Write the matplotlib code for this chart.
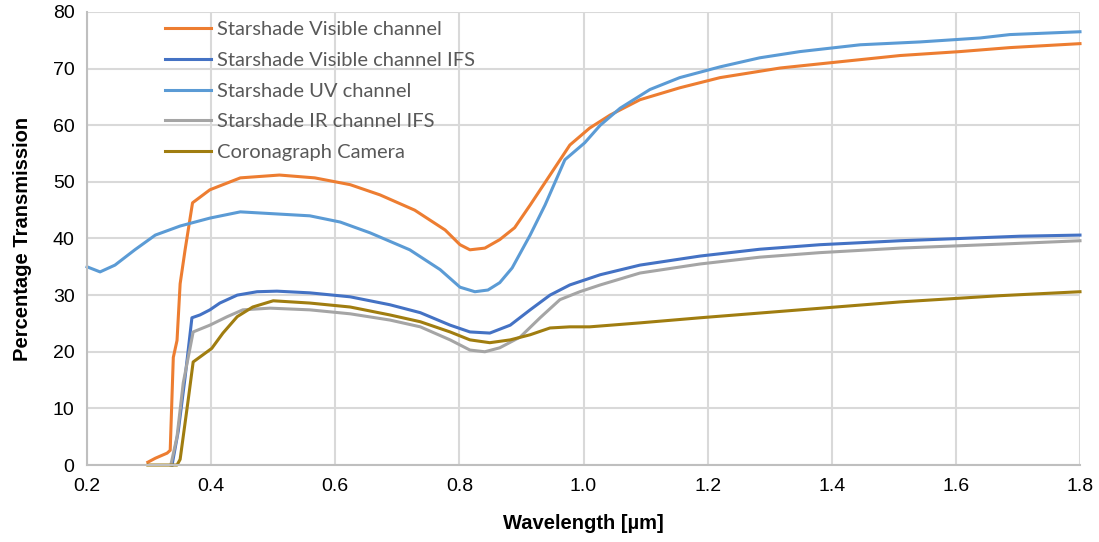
import matplotlib
matplotlib.use('Agg')
import matplotlib.pyplot as plt
import numpy as np

# Starshade Visible channel
vis_x = [0.298, 0.31, 0.329, 0.334, 0.339, 0.345, 0.35, 0.358, 0.37, 0.398, 0.447, 0.51, 0.567,
         0.624, 0.672, 0.728, 0.777, 0.801, 0.817, 0.841, 0.865, 0.889, 0.914, 0.946, 0.978,
         1.01, 1.043, 1.091, 1.155, 1.22, 1.317, 1.413, 1.51, 1.607, 1.687, 1.8]
vis_y = [0.5, 1.2, 2.1, 2.6, 19, 22, 32, 38, 46.3, 48.6, 50.7, 51.2, 50.7,
         49.5, 47.7, 45, 41.5, 38.9, 38, 38.3, 39.8, 41.9, 45.9, 51.2, 56.5,
         59.5, 61.8, 64.5, 66.6, 68.4, 70.1, 71.2, 72.3, 73, 73.7, 74.4]

# Starshade Visible channel IFS
ifs_x = [0.337, 0.347, 0.358, 0.369, 0.382, 0.398, 0.414, 0.442, 0.474, 0.506, 0.559,
         0.624, 0.688, 0.737, 0.785, 0.817, 0.849, 0.882, 0.914, 0.946, 0.978, 1.027,
         1.091, 1.188, 1.284, 1.381, 1.51, 1.607, 1.703, 1.8]
ifs_y = [0, 6, 15.5, 26, 26.5, 27.4, 28.6, 30, 30.6, 30.7, 30.4,
         29.7, 28.3, 26.9, 24.7, 23.5, 23.3, 24.7, 27.4, 30, 31.8, 33.6,
         35.3, 36.9, 38.1, 38.9, 39.6, 40.0, 40.4, 40.6]

# Starshade UV channel
uv_x = [0.2, 0.221, 0.245, 0.277, 0.31, 0.35, 0.398, 0.447, 0.511, 0.559, 0.608, 0.656,
        0.72, 0.769, 0.801, 0.825, 0.846, 0.865, 0.885, 0.914, 0.938, 0.97, 1.002, 1.027,
        1.059, 1.107, 1.155, 1.22, 1.284, 1.349, 1.446, 1.542, 1.639, 1.687, 1.8]
uv_y = [35, 34.1, 35.3, 38, 40.6, 42.2, 43.6, 44.7, 44.3, 44, 42.9, 41,
        38, 34.5, 31.4, 30.6, 30.9, 32.2, 34.8, 40.6, 45.9, 53.9, 56.9, 60,
        63, 66.3, 68.4, 70.3, 71.9, 73, 74.2, 74.7, 75.4, 76, 76.5]

# Starshade IR channel IFS
ir_x = [0.335, 0.345, 0.355, 0.371, 0.398, 0.426, 0.451, 0.495, 0.559, 0.624, 0.688,
        0.737, 0.785, 0.817, 0.841, 0.865, 0.898, 0.93, 0.962, 0.994, 1.027, 1.091,
        1.188, 1.284, 1.381, 1.51, 1.671, 1.8]
ir_y = [0, 5, 14.5, 23.5, 24.7, 26.2, 27.4, 27.7, 27.4, 26.7, 25.6,
        24.4, 22.1, 20.3, 20, 20.7, 22.6, 26, 29.2, 30.6, 31.8, 33.9,
        35.5, 36.7, 37.5, 38.3, 39, 39.6]

# Coronagraph Camera
cor_x = [0.298, 0.345, 0.35, 0.363, 0.371, 0.401, 0.419, 0.442, 0.467, 0.5, 0.559, 0.624,
         0.688, 0.737, 0.785, 0.817, 0.849, 0.882, 0.914, 0.946, 0.978, 1.01, 1.091,
         1.188, 1.349, 1.51, 1.671, 1.8]
cor_y = [0, 0, 1, 11.5, 18.2, 20.6, 23.3, 26.2, 27.9, 29, 28.6, 27.9,
         26.5, 25.3, 23.5, 22.1, 21.6, 22.1, 23, 24.2, 24.4, 24.4, 25.1,
         26, 27.4, 28.8, 29.9, 30.6]

labels = ['Starshade Visible channel', 'Starshade Visible channel IFS',
          'Starshade UV channel', 'Starshade IR channel IFS', 'Coronagraph Camera']
colors = ['#ED7D31', '#4472C4', '#5B9BD5', '#A5A5A5', '#A07D10']

xticks = [0.2, 0.4, 0.6, 0.8, 1.0, 1.2, 1.4, 1.6, 1.8]
yticks = [0, 10, 20, 30, 40, 50, 60, 70, 80]

plt.rcParams['font.family'] = ['Liberation Sans', 'DejaVu Sans']

fig = plt.figure(figsize=(10.99, 5.42), dpi=100)
ax = fig.add_axes([0.0792, 0.142, 0.9035, 0.836])

series = [(vis_x, vis_y), (ifs_x, ifs_y), (uv_x, uv_y), (ir_x, ir_y), (cor_x, cor_y)]
for (xs, ys), lab, col in zip(series, labels, colors):
    ax.plot(xs, ys, color=col, lw=2.2, label=lab, solid_joinstyle='round', clip_on=False)

ax.set_xlim(0.2, 1.8)
ax.set_ylim(0, 80)
ax.set_xticks(xticks)
ax.set_xticklabels(['%.1f' % v for v in xticks], fontsize=14)
ax.set_yticks(yticks)
ax.set_yticklabels([str(v) for v in yticks], fontsize=14)
ax.tick_params(length=0, pad=9)
ax.grid(True, color='#D9D9D9', lw=1.5)
ax.set_axisbelow(True)
for s in ['top', 'right']:
    ax.spines[s].set_visible(False)
for s in ['left', 'bottom']:
    ax.spines[s].set_color('#BFBFBF')
    ax.spines[s].set_linewidth(1.5)

ax.set_xlabel('Wavelength [µm]', fontsize=14.5, fontweight='bold', labelpad=14)
ax.set_ylabel('Percentage Transmission', fontsize=14.5, fontweight='bold', labelpad=15)

leg = ax.legend(loc='upper left', bbox_to_anchor=(0.07, 0.998), frameon=False,
                prop={'family': 'Lato', 'size': 14.5}, labelspacing=0.68,
                handlelength=2.3, handletextpad=0.3, borderaxespad=0)
for t in leg.get_texts():
    t.set_color('#595959')

fig.savefig('out.png', dpi=100)
